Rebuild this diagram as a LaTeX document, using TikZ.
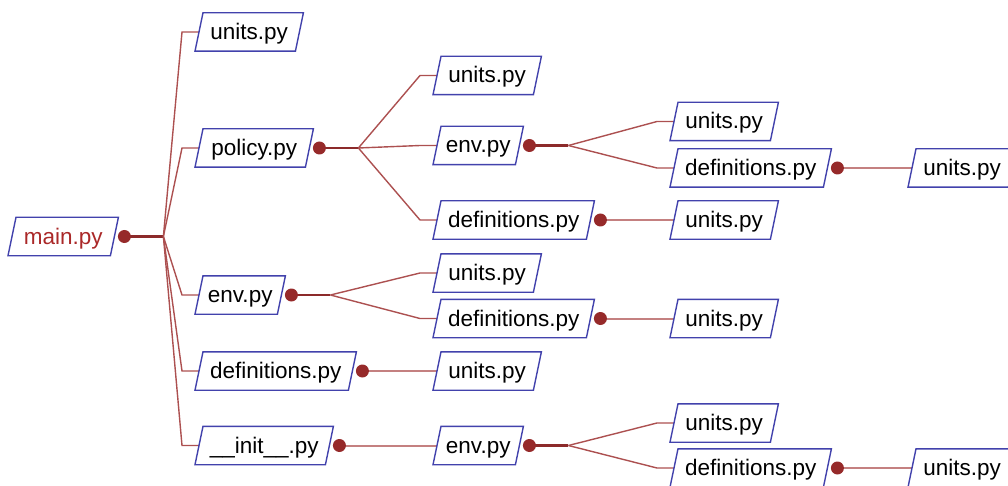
\documentclass[tikz,border=0pt]{standalone}
\usepackage{fontspec}
\setmainfont{Liberation Sans}
\pgfdeclarelayer{bg}
\pgfsetlayers{bg,main}
\definecolor{boxblue}{RGB}{66,66,172}
\definecolor{dotred}{RGB}{150,42,42}
\definecolor{trunkred}{RGB}{140,42,42}
\definecolor{branchred}{RGB}{172,80,80}
\definecolor{singlered}{RGB}{196,128,128}
\definecolor{maintext}{RGB}{170,40,40}
\tikzset{
  file/.style={anchor=west, inner sep=0pt, minimum height=38pt,
    text height=20pt, text depth=5pt,
    font=\fontsize{22.5}{26}\selectfont},
  unitsbox/.style={file, minimum width=100pt},
  envbox/.style={file, minimum width=82pt},
  defbox/.style={file, minimum width=153pt},
  policybox/.style={file, minimum width=110pt},
  initbox/.style={file, minimum width=130pt},
  mainbox/.style={file, minimum width=102pt, text=maintext},
  boxline/.style={draw=boxblue, line width=1.4pt, line join=miter},
  dot/.style={circle, fill=dotred, inner sep=0pt, minimum size=13pt},
  trunk/.style={draw=trunkred, line width=2.8pt},
  branch/.style={draw=branchred, line width=1.4pt},
  single/.style={draw=singlered, line width=2pt},
}
\begin{document}
\begin{tikzpicture}[x=1pt, y=-1pt]
\useasboundingbox (0,0) rectangle (1008,486);
\clip (0,0) rectangle (1008,486);

% file nodes (west anchor = mid-height point of the slanted left edge)
\node[mainbox]   (main)  at (12,236.5)  {main.py};
\node[unitsbox]  (u1)    at (199,32)    {units.py};
\node[policybox] (pol)   at (199,148)   {policy.py};
\node[envbox]    (env1)  at (199,295)   {env.py};
\node[defbox]    (def1)  at (199,371)   {definitions.py};
\node[initbox]   (init)  at (199,445.5) {\_\_init\_\_.py};
\node[unitsbox]  (u2a)   at (437,75.5)  {units.py};
\node[envbox]    (env2a) at (437,145.5) {env.py};
\node[defbox]    (def2a) at (437,220)   {definitions.py};
\node[unitsbox]  (u2b)   at (437,273)   {units.py};
\node[defbox]    (def2b) at (437,318.5) {definitions.py};
\node[unitsbox]  (u2c)   at (437,371)   {units.py};
\node[envbox]    (env2b) at (437,445.5) {env.py};
\node[unitsbox]  (u3a)   at (674,121.5) {units.py};
\node[defbox]    (def3a) at (674,168)   {definitions.py};
\node[unitsbox]  (u3b)   at (674,220)   {units.py};
\node[unitsbox]  (u3c)   at (674,318.5) {units.py};
\node[unitsbox]  (u3d)   at (674,423)   {units.py};
\node[defbox]    (def3b) at (674,468)   {definitions.py};
\node[unitsbox]  (u4a)   at (912,168)   {units.py};
\node[unitsbox]  (u4b)   at (912,468)   {units.py};

% slanted outlines
\foreach \n in {main,u1,pol,env1,def1,init,u2a,env2a,def2a,u2b,def2b,u2c,env2b,u3a,def3a,u3b,u3c,u3d,def3b,u4a,u4b}
  \draw[boxline] ([xshift=-4pt]\n.south west) -- ([xshift=4pt]\n.north west)
    -- ([xshift=4pt]\n.north east) -- ([xshift=-4pt]\n.south east) -- cycle;

% parent markers
\foreach \n in {main,pol,env1,def1,init,env2a,def2a,def2b,env2b,def3a,def3b}
  \node[dot] (\n-d) at ([xshift=10pt]\n.east) {};

% branching points
\foreach \n in {main,pol,env1,env2a,env2b}
  \coordinate (\n-j) at ([xshift=39pt]\n-d.center);

\begin{pgfonlayer}{bg}
  % trunks to branching points
  \foreach \n in {main,pol,env1,env2a,env2b}
    \draw[trunk] (\n-d.center) -- (\n-j);
  % branches with short horizontal stubs
  \foreach \p/\c in {main/u1,main/pol,main/env1,main/def1,main/init,
                     pol/u2a,pol/env2a,pol/def2a,
                     env1/u2b,env1/def2b,
                     env2a/u3a,env2a/def3a,
                     env2b/u3d,env2b/def3b}
    \draw[branch] (\p-j) -- ([xshift=-17pt]\c.west) -- (\c.west);
  % single children
  \foreach \p/\c in {def1/u2c,init/env2b,def2a/u3b,def2b/u3c,def3a/u4a,def3b/u4b}
    \draw[single] (\p-d.center) -- (\c.west);
\end{pgfonlayer}
\end{tikzpicture}
\end{document}
